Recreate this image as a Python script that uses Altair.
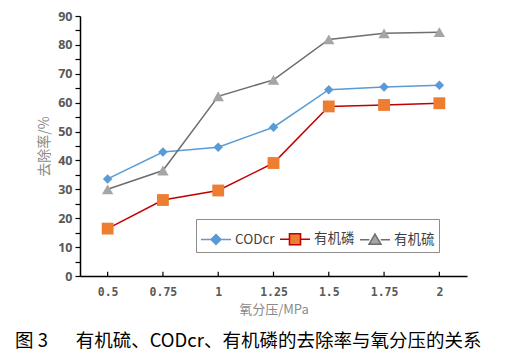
import altair as alt
import pandas as pd

x_labels = ["0.5", "0.75", "1", "1.25", "1.5", "1.75", "2"]
series_names = ["CODcr", "有机磷", "有机硫"]
cod_values = [33.6, 42.9, 44.6, 51.5, 64.5, 65.4, 66.0]
p_values = [16.4, 26.3, 29.6, 39.1, 58.7, 59.2, 59.8]
s_values = [30.0, 36.5, 62.2, 67.9, 81.9, 84.0, 84.4]
y_tick_values = [0, 5, 10, 15, 20, 25, 30, 35, 40, 45, 50, 55, 60, 65, 70, 75, 80, 85, 90]

marker_colors = ["#5B9BD5", "#ED7D31", "#A5A5A5"]
line_colors = ["#5B9BD5", "#C00000", "#6E6E6E"]
marker_shapes = ["diamond", "square", "triangle-up"]
marker_sizes = [90, 140, 130]
legend_paths = [
    "M-1,0H-0.33M0.33,0H1M0,-0.33L0.33,0L0,0.33L-0.33,0Z",
    "M-1,0H-0.37M0.37,0H1M-0.37,-0.37H0.37V0.37H-0.37Z",
    "M-1,0H-0.38M0.38,0H1M0,-0.38L0.4,0.3H-0.4Z",
]

values_by_series = [cod_values, p_values, s_values]

long_df = pd.concat(
    [pd.DataFrame({"x": x_labels, "v": vals, "s": name})
     for name, vals in zip(series_names, values_by_series)],
    ignore_index=True,
)

x_scale = alt.Scale(type="point", padding=0.5)
x_axis = alt.Axis(
    title="氧分压/MPa",
    labelAngle=0,
    ticks=False,
    tickSize=0,
    labelPadding=10,
    labelFont="DejaVu Sans Mono",
    labelFontWeight="bold",
    labelFontSize=11.5,
    labelColor="#595959",
    domainColor="#000000",
    domainWidth=1.5,
    titleFont="Noto Sans CJK SC",
    titleFontSize=13,
    titleFontWeight="normal",
    titleColor="#8a8a8a",
    titlePadding=6,
)
x_enc = alt.X("x:O", sort=x_labels, scale=x_scale, axis=x_axis)

y_scale = alt.Scale(domain=[0, 90], nice=False)
y_axis = alt.Axis(
    title="去除率/%",
    values=y_tick_values,
    labelExpr="datum.value % 10 == 0 ? datum.label : ''",
    labelOverlap=False,
    grid=False,
    tickSize=5,
    tickColor="#000000",
    tickWidth=1.2,
    domainColor="#000000",
    domainWidth=1.5,
    labelPadding=3,
    labelFont="Open Sans",
    labelFontWeight="bold",
    labelFontSize=12.5,
    labelColor="#595959",
    titleFont="Noto Sans CJK SC",
    titleFontSize=14,
    titleFontWeight="normal",
    titleColor="#8a8a8a",
    titlePadding=6,
)
y_enc = alt.Y("v:Q", scale=y_scale, axis=y_axis)

layers = []

for name, vals, mc, lc, shp, sz in zip(series_names, values_by_series, marker_colors,
                                      line_colors, marker_shapes, marker_sizes):
    df = pd.DataFrame({"x": x_labels, "v": vals})
    line = alt.Chart(df).mark_line(color=lc, strokeWidth=1.5).encode(x=x_enc, y=y_enc)
    pts = alt.Chart(df).mark_point(
        shape=shp, filled=True, color=mc, size=sz, opacity=1
    ).encode(x=x_enc, y=y_enc)
    layers += [line, pts]

# x-axis inward tick marks
tick_df = pd.DataFrame({"x": x_labels, "lo": 0.0, "hi": 1.5})
ticks = alt.Chart(tick_df).mark_rule(color="#000000", strokeWidth=1.2).encode(
    x=x_enc, y=alt.Y("lo:Q", scale=y_scale, axis=y_axis), y2="hi:Q"
)
layers.append(ticks)

legend_layer = alt.Chart(long_df).mark_point(filled=True, opacity=1, strokeWidth=1.5).encode(
    fill=alt.Fill("s:N", scale=alt.Scale(domain=series_names, range=marker_colors), legend=alt.Legend(title=None)),
    stroke=alt.Stroke("s:N", scale=alt.Scale(domain=series_names, range=line_colors), legend=alt.Legend(title=None)),
    shape=alt.Shape("s:N", scale=alt.Scale(domain=series_names, range=legend_paths), legend=alt.Legend(title=None)),
).transform_filter("false")
layers.append(legend_layer)

chart = alt.layer(*layers).properties(
    width=387,
    height=260,
    autosize=alt.AutoSizeParams(type="none"),
    padding={"left": 72, "top": 8, "right": 47, "bottom": 80},
    title=alt.TitleParams(
        text="图 3\u2003\u2002有机硫、CODcr、有机磷的去除率与氧分压的关系",
        orient="bottom",
        anchor="start",
        frame="group",
        dx=-65,
        offset=15,
        font="Noto Sans CJK SC",
        fontSize=18.5,
        fontWeight="normal",
        color="#000000",
    ),
).configure_view(stroke=None).configure_legend(
    orient="none",
    legendX=116,
    legendY=203,
    direction="horizontal",
    symbolSize=900,
    strokeColor="#8c8c8c",
    fillColor="#ffffff",
    padding=4,
    columnPadding=2,
    labelOffset=3,
    labelFont="Noto Sans CJK SC",
    labelFontSize=13.5,
    labelColor="#404040",
)

chart.save("out.html", embed_options={"renderer": "svg", "actions": False})
